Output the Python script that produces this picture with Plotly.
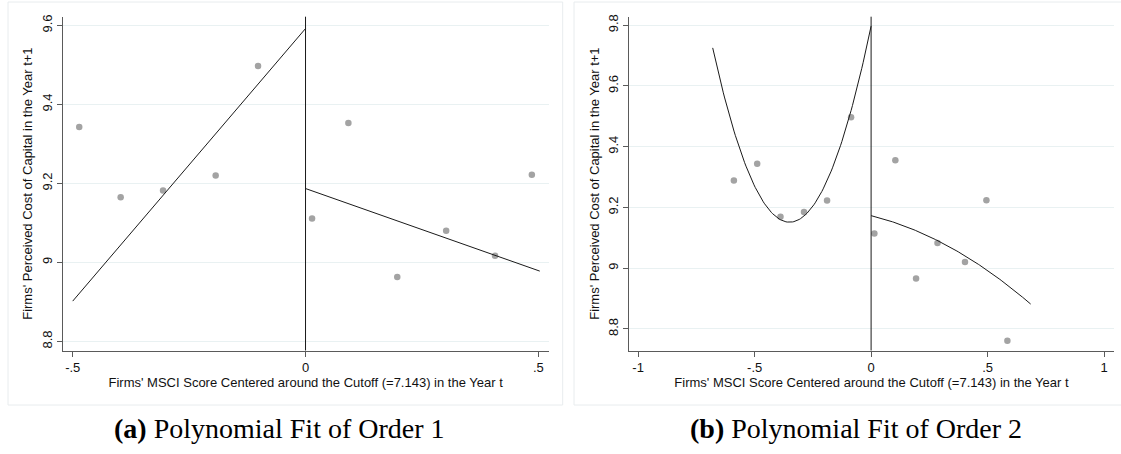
import numpy as np
import plotly.graph_objects as go

# ---------------- data ----------------
# Panel (a): binned means, polynomial fit of order 1
bin_x_a = [-0.486, -0.397, -0.306, -0.193, -0.102, 0.014, 0.092, 0.197, 0.302, 0.407, 0.486]
bin_y_a = [9.343, 9.165, 9.182, 9.220, 9.497, 9.111, 9.353, 8.963, 9.080, 9.017, 9.222]
fit_a_left_x = [-0.5, 0.0]
fit_a_left_y = [8.902, 9.592]
fit_a_right_x = [0.0, 0.503]
fit_a_right_y = [9.187, 8.978]

# Panel (b): binned means, polynomial fit of order 2
bin_x_b = [-0.589, -0.489, -0.389, -0.288, -0.189, -0.086, 0.014, 0.104, 0.193, 0.285, 0.403, 0.495, 0.585]
bin_y_b = [9.289, 9.344, 9.169, 9.185, 9.223, 9.497, 9.114, 9.355, 8.966, 9.083, 9.020, 9.224, 8.761]
# quadratic fit coefficients (c0, c1, c2) and support on each side of the cutoff
quad_left_coef = [9.797, 3.689, 5.27]
quad_left_span = [-0.68, 0.0]
quad_right_coef = [9.173, -0.190, -0.343]
quad_right_span = [0.0, 0.685]

cutoff = 0.0

xticks_a = [-0.5, 0, 0.5]
xticklabels_a = ["-.5", "0", ".5"]
yticks_a = [8.8, 9.0, 9.2, 9.4, 9.6]
yticklabels_a = ["8.8", "9", "9.2", "9.4", "9.6"]
xticks_b = [-1, -0.5, 0, 0.5, 1]
xticklabels_b = ["-1", "-.5", "0", ".5", "1"]
yticks_b = [8.8, 9.0, 9.2, 9.4, 9.6, 9.8]
yticklabels_b = ["8.8", "9", "9.2", "9.4", "9.6", "9.8"]

x_title = "Firms' MSCI Score Centered around the Cutoff (=7.143) in the Year t"
y_title = "Firms' Perceived Cost of Capital in the Year t+1"
captions = ["<b>(a)</b> Polynomial Fit of Order 1", "<b>(b)</b> Polynomial Fit of Order 2"]

# ---------------- figure ----------------
W, H = 1121, 454
DOT = "#a3a3a3"
LINE = "#1a1a1a"
GRID = "#e9f1f2"
AX = "#5a5a5a"
SANS = "Liberation Sans, Arial, sans-serif"

fig = go.Figure()

def quad_curve(coef, span):
    xs = np.linspace(span[0], span[1], 120)
    ys = coef[0] + coef[1] * xs + coef[2] * xs ** 2
    return xs, ys

# panel a
fig.add_trace(go.Scatter(x=bin_x_a, y=bin_y_a, mode="markers", xaxis="x", yaxis="y",
                         marker=dict(color=DOT, size=6.5), showlegend=False, hoverinfo="skip"))
fig.add_trace(go.Scatter(x=fit_a_left_x, y=fit_a_left_y, mode="lines", xaxis="x", yaxis="y",
                         line=dict(color=LINE, width=1), showlegend=False))
fig.add_trace(go.Scatter(x=fit_a_right_x, y=fit_a_right_y, mode="lines", xaxis="x", yaxis="y",
                         line=dict(color=LINE, width=1), showlegend=False))

# panel b
fig.add_trace(go.Scatter(x=bin_x_b, y=bin_y_b, mode="markers", xaxis="x2", yaxis="y2",
                         marker=dict(color=DOT, size=6.5), showlegend=False, hoverinfo="skip"))
for coef, span in [(quad_left_coef, quad_left_span), (quad_right_coef, quad_right_span)]:
    xs, ys = quad_curve(coef, span)
    fig.add_trace(go.Scatter(x=xs, y=ys, mode="lines", xaxis="x2", yaxis="y2",
                             line=dict(color=LINE, width=1), showlegend=False))

def px_x(p):
    return p / W

def px_y(p):
    return 1 - p / H

ydom = [px_y(350.5), px_y(16.7)]

common_x = dict(showline=True, linecolor=AX, linewidth=1, ticks="outside", ticklen=5,
                tickcolor=AX, showgrid=False, zeroline=False, automargin=False,
                tickfont=dict(family=SANS, size=13, color="#111"),
                title=dict(text=x_title, font=dict(family=SANS, size=13, color="#111"), standoff=3))
common_y = dict(showline=True, linecolor=AX, linewidth=1, ticks="outside", ticklen=5,
                tickcolor=AX, showgrid=True, gridcolor=GRID, gridwidth=1, zeroline=False,
                tickangle=-90, automargin=False,
                tickfont=dict(family=SANS, size=13, color="#111"),
                title=dict(text=y_title, font=dict(family=SANS, size=13, color="#111"), standoff=3))

fig.update_layout(
    width=W, height=H,
    margin=dict(l=0, r=0, t=0, b=0, autoexpand=False),
    paper_bgcolor="white", plot_bgcolor="white",
    xaxis=dict(domain=[px_x(62.7), px_x(548.6)], range=[-0.5215, 0.522], anchor="y",
               tickvals=xticks_a, ticktext=xticklabels_a, **common_x),
    yaxis=dict(domain=ydom, range=[8.777, 9.622], anchor="x",
               tickvals=yticks_a, ticktext=yticklabels_a, **common_y),
    xaxis2=dict(domain=[px_x(629.3), px_x(1113.6)], range=[-1.038, 1.041], anchor="y2",
                tickvals=xticks_b, ticktext=xticklabels_b, **common_x),
    yaxis2=dict(domain=ydom, range=[8.729, 9.828], anchor="x2",
                tickvals=yticks_b, ticktext=yticklabels_b, **common_y),
)

shapes = [
    dict(type="line", xref="x", yref="y domain", x0=cutoff, x1=cutoff, y0=0, y1=1,
         line=dict(color=LINE, width=1)),
    dict(type="line", xref="x2", yref="y2 domain", x0=cutoff, x1=cutoff, y0=0, y1=1,
         line=dict(color=LINE, width=1)),
    dict(type="rect", xref="paper", yref="paper", x0=px_x(8), x1=px_x(562.7),
         y0=px_y(405), y1=px_y(2), line=dict(color="#e8ecee", width=1), layer="below"),
    dict(type="rect", xref="paper", yref="paper", x0=px_x(574), x1=px_x(1124),
         y0=px_y(405), y1=px_y(2), line=dict(color="#e8ecee", width=1), layer="below"),
]
fig.update_layout(shapes=shapes)

for cap, cx in zip(captions, [279, 856]):
    fig.add_annotation(text=cap, xref="paper", yref="paper", x=px_x(cx), y=px_y(428),
                       xanchor="center", yanchor="middle", showarrow=False,
                       font=dict(family="Liberation Serif, Times New Roman, serif", size=28, color="#000"))

fig.write_html("out.html", config={"displayModeBar": False},
               post_script="document.body.style.margin='0px';document.body.style.overflow='hidden';")
